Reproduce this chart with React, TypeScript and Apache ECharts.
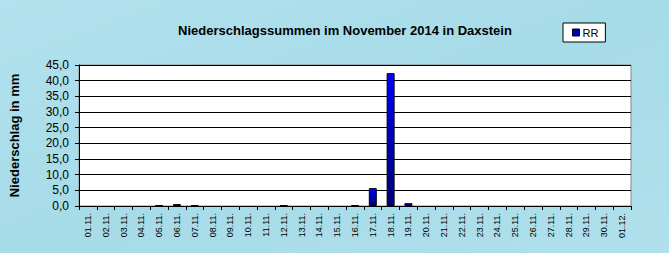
import React, { useEffect, useRef } from "react";
import * as echarts from "echarts";

const categories = [
  "01.11.", "02.11.", "03.11.", "04.11.", "05.11.", "06.11.", "07.11.", "08.11.",
  "09.11.", "10.11.", "11.11.", "12.11.", "13.11.", "14.11.", "15.11.", "16.11.",
  "17.11.", "18.11.", "19.11.", "20.11.", "21.11.", "22.11.", "23.11.", "24.11.",
  "25.11.", "26.11.", "27.11.", "28.11.", "29.11.", "30.11.", "01.12.",
];
const rrValues = [
  0, 0, 0, 0, 0.2, 0.6, 0.3, 0,
  0, 0, 0, 0.2, 0, 0, 0, 0.2,
  5.7, 42.4, 0.9, 0, 0, 0, 0, 0,
  0, 0, 0, 0, 0, 0, 0,
];
const titleText = "Niederschlagssummen im November 2014 in Daxstein";
const yAxisName = "Niederschlag in mm";
const seriesName = "RR";

export default function App() {
  const ref = useRef<HTMLDivElement>(null);
  useEffect(() => {
    document.body.style.margin = "0";
    const chart = echarts.init(ref.current!, null, { renderer: "svg" });
    const font = "Liberation Sans, Arial, sans-serif";
    chart.setOption({
      animation: false,
      backgroundColor: new echarts.graphic.LinearGradient(0, 0, 1, 1, [
        { offset: 0, color: "#b2e2ee" },
        { offset: 0.5, color: "#a6dbe8" },
        { offset: 1, color: "#b0e0ec" },
      ]),
      title: {
        text: titleText,
        left: 340,
        textAlign: "center",
        top: 19,
        textStyle: { fontFamily: font, fontSize: 13, fontWeight: "bold", color: "#000" },
      },
      legend: {
        left: 563,
        top: 23,
        padding: [4, 7, 4, 9],
        backgroundColor: "#fff",
        borderColor: "#000",
        borderWidth: 1,
        borderRadius: 0,
        itemWidth: 7,
        itemHeight: 7,
        itemGap: 4,
        icon: "rect",
        textStyle: { fontFamily: font, fontSize: 11, color: "#000", padding: [0, 0, 0, -2] },
        data: [{ name: seriesName, itemStyle: { color: "#0000c0", borderColor: "#000", borderWidth: 1 } }],
      },
      grid: { left: 79, right: 38, top: 65, bottom: 47, show: true, backgroundColor: "#fff", borderColor: "#888", borderWidth: 1 },
      xAxis: {
        type: "category",
        data: categories,
        boundaryGap: true,
        axisLine: { lineStyle: { color: "#000", width: 1 } },
        axisTick: { show: true, length: 4, inside: false, lineStyle: { color: "#000" }, alignWithLabel: false },
        axisLabel: { rotate: 90, interval: 0, fontFamily: font, fontSize: 9, color: "#000", margin: 7 },
        splitLine: { show: false },
      },
      yAxis: {
        type: "value",
        min: 0,
        max: 45,
        interval: 5,
        name: yAxisName,
        nameLocation: "middle",
        nameGap: 58,
        nameTextStyle: { fontFamily: font, fontSize: 13, fontWeight: "bold", color: "#000" },
        axisLine: { show: true, lineStyle: { color: "#000", width: 1 } },
        axisTick: { show: true, length: 4, lineStyle: { color: "#000" } },
        axisLabel: {
          fontFamily: font,
          fontSize: 12,
          color: "#000",
          margin: 10,
          formatter: (v: number) => v.toFixed(1).replace(".", ","),
        },
        splitLine: { show: true, lineStyle: { color: "#000", width: 1 } },
      },
      series: [
        {
          name: seriesName,
          type: "bar",
          data: rrValues.map((v) => (v > 0 ? v : { value: v, itemStyle: { borderWidth: 0 } })),
          barWidth: 8,
          itemStyle: {
            color: new echarts.graphic.LinearGradient(0, 0, 0, 1, [
              { offset: 0, color: "#0000ff" },
              { offset: 1, color: "#000070" },
            ]),
            borderColor: "#000",
            borderWidth: 1,
          },
        },
      ],
    });
    return () => chart.dispose();
  }, []);
  return <div ref={ref} style={{ width: 669, height: 253 }} />;
}
